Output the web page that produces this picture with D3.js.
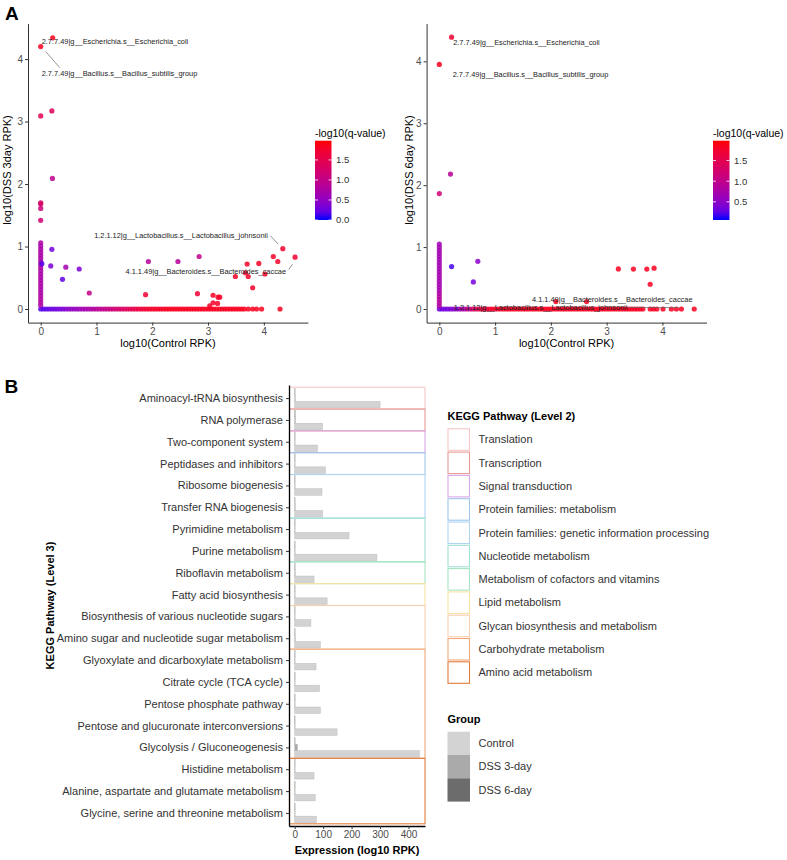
<!DOCTYPE html>
<html>
<head>
<meta charset="utf-8">
<script src="https://cdn.jsdelivr.net/npm/d3@7"></script>
<style>
  body { margin: 0; background: #fff; }
  svg { font-family: "Liberation Sans", Arial, sans-serif; }
</style>
</head>
<body>
<div id="chart"></div>
<script>
// ---- Panel A data: [log10 Control RPK, log10 DSS RPK, -log10(q)] ----
const day3Points = [
    [0.215, 4.34, 1.85], [0.00, 4.20, 1.85], [0.00, 3.09, 1.45], [0.20, 3.17, 1.4],
    [0.21, 2.09, 0.95], [0.00, 1.70, 1.3], [0.00, 1.68, 1.25], [0.00, 1.61, 1.15],
    [0.00, 1.42, 1.2], [0.02, 0.725, 0.15], [0.20, 0.955, 0.3], [0.18, 0.69, 0.35],
    [0.45, 0.67, 0.65], [0.39, 0.475, 0.2], [0.69, 0.64, 0.35], [0.87, 0.256, 1.0],
    [1.93, 0.76, 0.85], [2.46, 0.76, 0.85], [2.84, 0.84, 0.95], [1.88, 0.23, 1.7],
    [2.81, 0.245, 1.7], [3.09, 0.22, 1.8], [3.18, 0.19, 1.8], [3.21, 0.19, 1.8],
    [3.03, 0.05, 1.8], [3.09, 0.10, 1.8], [3.17, 0.09, 1.8], [3.49, 0.52, 1.8],
    [3.70, 0.72, 1.8], [3.67, 0.58, 1.8], [3.72, 0.52, 1.8], [3.91, 0.73, 1.8],
    [3.80, 0.34, 1.8], [4.02, 0.56, 1.8], [4.17, 0.84, 1.8], [4.25, 0.76, 1.8],
    [4.34, 0.965, 1.75], [4.56, 0.83, 1.75], [4.29, 0.00, 1.85], [3.72, 0.00, 1.85],
    [3.80, 0.00, 1.85], [3.87, 0.00, 1.85], [3.96, 0.00, 1.85]
];
// genes with DSS 3day RPK = 0 (x values and their -log10 q)
const day3BaseX = [
    0.00, 0.05, 0.10, 0.15, 0.20, 0.25, 0.30, 0.35, 0.40, 0.45,
    0.50, 0.55, 0.60, 0.65, 0.70, 0.75, 0.80, 0.85, 0.90, 0.95,
    1.00, 1.05, 1.10, 1.15, 1.20, 1.25, 1.30, 1.35, 1.40, 1.45,
    1.50, 1.55, 1.60, 1.65, 1.70, 1.75, 1.80, 1.85, 1.90, 1.95,
    2.00, 2.05, 2.10, 2.15, 2.20, 2.25, 2.30, 2.35, 2.40, 2.45,
    2.50, 2.55, 2.60, 2.65, 2.70, 2.75, 2.80, 2.85, 2.90, 2.95,
    3.00, 3.05, 3.10, 3.15, 3.20, 3.25, 3.30, 3.35, 3.40, 3.45,
    3.50, 3.55, 3.60, 3.65
];
const day3BaseQ = [
    0.15, 0.15, 0.2, 0.2, 0.25, 0.25, 0.3, 0.3, 0.35, 0.4,
    0.45, 0.5, 0.5, 0.55, 0.6, 0.65, 0.65, 0.7, 0.75, 0.8,
    0.85, 0.9, 0.95, 1.0, 1.05, 1.1, 1.15, 1.2, 1.25, 1.3,
    1.35, 1.4, 1.45, 1.5, 1.55, 1.6, 1.65, 1.7, 1.72, 1.75,
    1.78, 1.8, 1.8, 1.82, 1.82, 1.85, 1.85, 1.85, 1.85, 1.85,
    1.85, 1.85, 1.85, 1.85, 1.85, 1.85, 1.85, 1.85, 1.85, 1.85,
    1.85, 1.85, 1.85, 1.85, 1.85, 1.85, 1.85, 1.85, 1.85, 1.85,
    1.85, 1.85, 1.85, 1.85
];
// genes with Control RPK = 0 (y values and their -log10 q)
const day3ColY = [
    0.06, 0.11, 0.16, 0.21, 0.26, 0.31, 0.36, 0.41, 0.46, 0.51, 0.56,
    0.61, 0.66, 0.71, 0.76, 0.81, 0.86, 0.91, 0.96, 1.01, 1.06
];
const day3ColQ = [
    0.75, 0.8, 0.75, 0.8, 0.75, 0.7, 0.75, 0.7, 0.75, 0.7, 0.75,
    0.7, 0.75, 0.7, 0.75, 0.7, 0.75, 0.7, 0.75, 0.7, 0.75
];

const day6Points = [
    [0.22, 4.39, 1.75], [0.00, 3.95, 1.85], [0.20, 2.18, 0.9], [0.00, 1.865, 1.2],
    [0.22, 0.685, 0.15], [0.69, 0.77, 0.5], [0.61, 0.437, 0.35], [3.21, 0.647, 1.85],
    [3.48, 0.645, 1.85], [3.72, 0.645, 1.85], [3.85, 0.66, 1.85], [3.78, 0.40, 1.85],
    [2.09, 0.12, 1.85], [2.64, 0.12, 1.85], [3.78, 0.00, 1.85], [3.84, 0.00, 1.85],
    [3.90, 0.00, 1.85], [4.01, 0.00, 1.85], [4.16, 0.00, 1.85], [4.25, 0.00, 1.85],
    [4.34, 0.00, 1.85], [4.57, 0.00, 1.85]
];
const day6BaseX = [
    0.00, 0.05, 0.10, 0.15, 0.20, 0.25, 0.30, 0.35, 0.40, 0.45,
    0.50, 0.55, 0.60, 0.65, 0.70, 0.75, 0.80, 0.85, 0.90, 0.95,
    1.00, 1.05, 1.10, 1.15, 1.20, 1.25, 1.30, 1.35, 1.40, 1.45,
    1.50, 1.55, 1.60, 1.65, 1.70, 1.75, 1.80, 1.85, 1.90, 1.95,
    2.00, 2.05, 2.10, 2.15, 2.20, 2.25, 2.30, 2.35, 2.40, 2.45,
    2.50, 2.55, 2.60, 2.65, 2.70, 2.75, 2.80, 2.85, 2.90, 2.95,
    3.00, 3.05, 3.10, 3.15, 3.20, 3.25, 3.30, 3.35, 3.40, 3.45,
    3.50, 3.55, 3.60, 3.65
];
const day6BaseQ = [
    0.3, 0.3, 0.35, 0.35, 0.4, 0.45, 0.5, 0.6, 0.7, 0.8,
    0.95, 1.1, 1.25, 1.4, 1.5, 1.6, 1.65, 1.7, 1.75, 1.78,
    1.8, 1.8, 1.8, 1.82, 1.82, 1.82, 1.85, 1.85, 1.85, 1.85,
    1.85, 1.85, 1.85, 1.85, 1.85, 1.85, 1.85, 1.85, 1.85, 1.85,
    1.85, 1.85, 1.85, 1.85, 1.85, 1.85, 1.85, 1.85, 1.85, 1.85,
    1.85, 1.85, 1.85, 1.85, 1.85, 1.85, 1.85, 1.85, 1.85, 1.85,
    1.85, 1.85, 1.85, 1.85, 1.85, 1.85, 1.85, 1.85, 1.85, 1.85,
    1.85, 1.85, 1.85, 1.85
];
const day6ColY = [
    0.05, 0.10, 0.15, 0.20, 0.25, 0.30, 0.35, 0.40, 0.45, 0.50, 0.55,
    0.60, 0.65, 0.70, 0.75, 0.80, 0.85, 0.90, 0.95, 1.00, 1.05
];
const day6ColQ = [
    0.8, 0.85, 0.9, 0.85, 0.8, 0.75, 0.7, 0.7, 0.7, 0.7, 0.7,
    0.7, 0.65, 0.7, 0.65, 0.7, 0.65, 0.7, 0.65, 0.7, 0.65
];

// labelled genes: [text, x, y, dx, dy, anchor, segment offsets or null]
const day3Labels = [
    ['2.7.7.49|g__Escherichia.s__Escherichia_coli', 0.215, 4.34, -11, 6, 'start', null],
    ['2.7.7.49|g__Bacillus.s__Bacillus_subtilis_group', 0.00, 4.20, 1, 29, 'start', [5, 5, 19, 21]],
    ['1.2.1.12|g__Lactobacillus.s__Lactobacillus_johnsonii', 4.34, 0.965, -15, -10.5, 'end', [-4.5, -4.5, -12.5, -13]],
    ['4.1.1.49|g__Bacteroides.s__Bacteroides_caccae', 4.56, 0.83, -9, 17, 'end', [-2.5, 7, -6.3, 12.3]]
];
const day6Labels = [
    ['2.7.7.49|g__Escherichia.s__Escherichia_coli', 0.22, 4.39, 1.6, 7.6, 'start', null],
    ['2.7.7.49|g__Bacillus.s__Bacillus_subtilis_group', 0.00, 3.95, 13.4, 13, 'start', null],
    ['4.1.1.49|g__Bacteroides.s__Bacteroides_caccae', 4.57, 0.00, -1.7, -7, 'end', null],
    ['1.2.1.12|g__Lactobacillus.s__Lactobacillus_johnsonii', 4.34, 0.00, -54, 0.8, 'end', [-53, -1.5, -3, -1.5]]
];

// ---- Panel B data ----
const pathways = [
    'Aminoacyl-tRNA biosynthesis', 'RNA polymerase', 'Two-component system',
    'Peptidases and inhibitors', 'Ribosome biogenesis', 'Transfer RNA biogenesis',
    'Pyrimidine metabolism', 'Purine metabolism', 'Riboflavin metabolism',
    'Fatty acid biosynthesis', 'Biosynthesis of various nucleotide sugars',
    'Amino sugar and nucleotide sugar metabolism', 'Glyoxylate and dicarboxylate metabolism',
    'Citrate cycle (TCA cycle)', 'Pentose phosphate pathway',
    'Pentose and glucuronate interconversions', 'Glycolysis / Gluconeogenesis',
    'Histidine metabolism', 'Alanine, aspartate and glutamate metabolism',
    'Glycine, serine and threonine metabolism'
];
const controlRPK = [300, 98, 80, 108, 96, 98, 191, 289, 68, 114, 57, 90, 75, 87, 90, 149, 438, 68, 72, 76];
const dss3RPK = [2, 3, 1.5, 1.5, 1.5, 2, 1.5, 1.5, 2, 1.5, 1.5, 2, 1.5, 1.5, 1.5, 1.5, 10, 1.5, 1.5, 1.5];
const dss6RPK = [1.5, 2, 1.5, 1.5, 1.5, 1.5, 1.5, 1.5, 1.5, 1.5, 1.5, 1.5, 1.5, 1.5, 1.5, 1.5, 1.5, 1.5, 1.5, 1.5];
const level2Names = [
    'Translation', 'Transcription', 'Signal transduction', 'Protein families: metabolism',
    'Protein families: genetic information processing', 'Nucleotide metabolism',
    'Metabolism of cofactors and vitamins', 'Lipid metabolism',
    'Glycan biosynthesis and metabolism', 'Carbohydrate metabolism', 'Amino acid metabolism'
];
const level2Colors = [
    '#f6c6c6', '#e99a94', '#d9a8ea', '#9fc6ea', '#aed6f3', '#9fe1d4',
    '#a6e4c2', '#f9e2a2', '#f7d0b2', '#f0a878', '#e47c38'
];
// level 2 index of each pathway row
const rowLevel2 = [0, 1, 2, 3, 4, 4, 5, 5, 6, 7, 8, 8, 9, 9, 9, 9, 9, 10, 10, 10];
const groups = ['Control', 'DSS 3-day', 'DSS 6-day'];
const groupFills = ['#d3d3d3', '#aaaaaa', '#6c6c6c'];
const expressionTicks = [0, 100, 200, 300, 400];

const svg = d3.select('#chart').append('svg')
    .attr('width', 787)
    .attr('height', 860);

// Shared helper to style a d3 axis like ggplot classic.
const styleAxis = (g, lineColor, textSize) => {
    g.attr('font-family', null);
    g.select('.domain').attr('stroke', lineColor).attr('stroke-width', 1);
    g.selectAll('.tick line').attr('stroke', '#333');
    g.selectAll('.tick text').attr('fill', '#4d4d4d').style('font-size', textSize);
};

function drawScatter(c) {
    const x = d3.scaleLinear().domain([-0.228, 4.79]).range([c.left, c.left + 279.9]);
    const y = d3.scaleLinear().domain(c.yDomain).range([322.6, 23.6]);
    const color = d3.scaleLinear().domain(c.qDomain).range(['blue', 'red'])
        .interpolate(d3.interpolateLab).clamp(true);

    const pts = [
        ...c.baseX.map((v, i) => ({x: v, y: 0, q: c.baseQ[i]})),
        ...c.colY.map((v, i) => ({x: 0, y: v, q: c.colQ[i]})),
        ...c.points.map(p => ({x: p[0], y: p[1], q: p[2]}))
    ];

    svg.append('g').selectAll('circle')
        .data(pts)
        .join('circle')
        .attr('cx', d => x(d.x))
        .attr('cy', d => y(d.y))
        .attr('r', 2.6)
        .attr('fill', d => color(d.q))
        .attr('fill-opacity', 0.85);

    // Label segments and texts.
    const lab = svg.append('g');
    c.labels.forEach(l => {
        const px = x(l[1]), py = y(l[2]);
        if (l[6]) {
            lab.append('line')
                .attr('x1', px + l[6][0]).attr('y1', py + l[6][1])
                .attr('x2', px + l[6][2]).attr('y2', py + l[6][3])
                .attr('stroke', '#666').attr('stroke-width', 0.7);
        }
        lab.append('text')
            .attr('x', px + l[3]).attr('y', py + l[4])
            .attr('text-anchor', l[5])
            .style('font-size', '7.4px')
            .attr('fill', '#222')
            .text(l[0]);
    });

    const xAxisG = svg.append('g')
        .attr('transform', 'translate(0,322.6)')
        .call(d3.axisBottom(x).tickValues([0, 1, 2, 3, 4]).tickFormat(d3.format('d'))
            .tickSize(3).tickPadding(2).tickSizeOuter(0));
    styleAxis(xAxisG, '#333', '10px');
    const yAxisG = svg.append('g')
        .attr('transform', `translate(${c.left},0)`)
        .call(d3.axisLeft(y).tickValues([0, 1, 2, 3, 4]).tickFormat(d3.format('d'))
            .tickSize(3).tickPadding(2).tickSizeOuter(0));
    styleAxis(yAxisG, '#333', '10px');

    svg.append('text')
        .attr('x', c.left + 140).attr('y', 347)
        .attr('text-anchor', 'middle')
        .style('font-size', '11px')
        .text('log10(Control RPK)');
    svg.append('text')
        .attr('transform', `translate(${c.yTitleX},170) rotate(-90)`)
        .attr('text-anchor', 'middle')
        .style('font-size', '11px')
        .text(c.yTitle);

    // Colour bar legend.
    const grad = svg.append('defs').append('linearGradient')
        .attr('id', c.id).attr('x1', 0).attr('y1', 1).attr('x2', 0).attr('y2', 0);
    d3.range(0, 1.0001, 0.1).forEach(t => {
        grad.append('stop')
            .attr('offset', t)
            .attr('stop-color', color(c.qDomain[0] + t * (c.qDomain[1] - c.qDomain[0])));
    });
    const cb = d3.scaleLinear().domain(c.qDomain).range([220, 140.7]);
    svg.append('rect')
        .attr('x', c.cbX).attr('y', 140.7)
        .attr('width', 16.5).attr('height', 79.3)
        .attr('fill', `url(#${c.id})`);
    const cbTicks = svg.append('g').selectAll('g')
        .data(c.cbTicks)
        .join('g')
        .attr('transform', d => `translate(0,${cb(d)})`);
    cbTicks.append('line').attr('x1', c.cbX).attr('x2', c.cbX + 3).attr('stroke', '#fff').attr('stroke-opacity', 0.8);
    cbTicks.append('line').attr('x1', c.cbX + 13.5).attr('x2', c.cbX + 16.5).attr('stroke', '#fff').attr('stroke-opacity', 0.8);
    cbTicks.append('text')
        .attr('x', c.cbX + 21).attr('dy', '0.35em')
        .style('font-size', '9.5px')
        .attr('fill', '#333')
        .text(d => d.toFixed(1));
    svg.append('text')
        .attr('x', c.cbX).attr('y', 136.5)
        .style('font-size', '10.5px')
        .text('-log10(q-value)');
}

drawScatter({
    id: 'grad3', left: 28, yDomain: [-0.2175, 4.5675], qDomain: [0, 1.98],
    points: day3Points, baseX: day3BaseX, baseQ: day3BaseQ, colY: day3ColY, colQ: day3ColQ,
    labels: day3Labels, yTitle: 'log10(DSS 3day RPK)', yTitleX: 11, cbX: 315, cbTicks: [0, 0.5, 1.0, 1.5]
});
drawScatter({
    id: 'grad6', left: 426.6, yDomain: [-0.2195, 4.6095], qDomain: [0.06, 1.98],
    points: day6Points, baseX: day6BaseX, baseQ: day6BaseQ, colY: day6ColY, colQ: day6ColQ,
    labels: day6Labels, yTitle: 'log10(DSS 6day RPK)', yTitleX: 413, cbX: 713, cbTicks: [0.5, 1.0, 1.5]
});

// Panel letters.
svg.append('text').attr('x', 5).attr('y', 20).style('font-size', '19px').style('font-weight', 'bold').text('A');
svg.append('text').attr('x', 4.5).attr('y', 393).style('font-size', '19px').style('font-weight', 'bold').text('B');

// ---- Panel B: grouped horizontal bars ----
const yB = d3.scalePoint().domain(pathways).range([385, 826]).padding(0.6);
const step = yB.step();
const xB = d3.scaleLinear().domain([-20, 458]).range([289, 425]);
const barH = step * 0.9 / 3;

const barData = [];
pathways.forEach((p, i) => {
    [controlRPK[i], dss3RPK[i], dss6RPK[i]].forEach((v, g) => {
        barData.push({p, g, v});
    });
});

svg.append('g').selectAll('rect')
    .data(barData)
    .join('rect')
    .attr('x', xB(0))
    .attr('y', d => yB(d.p) + step * 0.45 - barH * (d.g + 1))
    .attr('width', d => xB(d.v) - xB(0))
    .attr('height', barH)
    .attr('fill', d => groupFills[d.g])
    .attr('stroke', '#bdbdbd')
    .attr('stroke-width', 0.5);

// Level 2 outline boxes.
const spans = level2Names.map((name, k) => {
    const rows = pathways.filter((_, i) => rowLevel2[i] === k);
    return {k, first: rows[0], last: rows[rows.length - 1]};
});
svg.append('g').selectAll('rect')
    .data(spans)
    .join('rect')
    .attr('x', xB(-20) + 0.5)
    .attr('y', d => yB(d.first) - step / 2)
    .attr('width', xB(458) - xB(-20) - 0.5)
    .attr('height', d => yB(d.last) - yB(d.first) + step)
    .attr('fill', 'none')
    .attr('stroke', d => level2Colors[d.k])
    .attr('stroke-width', 1.1);

const xAxisB = svg.append('g')
    .attr('transform', 'translate(0,826)')
    .call(d3.axisBottom(xB).tickValues(expressionTicks).tickSize(3).tickPadding(2).tickSizeOuter(0));
styleAxis(xAxisB, '#000', '10px');
xAxisB.select('.domain').attr('stroke-width', 1.3);
const yAxisB = svg.append('g')
    .attr('transform', 'translate(289,0)')
    .call(d3.axisLeft(yB).tickSize(3).tickPadding(3).tickSizeOuter(0));
styleAxis(yAxisB, '#000', '11px');
yAxisB.select('.domain').attr('stroke-width', 1.3);
yAxisB.selectAll('.tick text').attr('fill', '#333');

svg.append('text')
    .attr('x', 357).attr('y', 854)
    .attr('text-anchor', 'middle')
    .style('font-size', '11px').style('font-weight', 'bold')
    .text('Expression (log10 RPK)');
svg.append('text')
    .attr('transform', 'translate(54,605.5) rotate(-90)')
    .attr('text-anchor', 'middle')
    .style('font-size', '11px').style('font-weight', 'bold')
    .text('KEGG Pathway (Level 3)');

// Legends.
const keyStep = 23.3;
svg.append('text')
    .attr('x', 447.5).attr('y', 419.5)
    .style('font-size', '11px').style('font-weight', 'bold')
    .text('KEGG Pathway (Level 2)');
const l2 = svg.append('g').selectAll('g')
    .data(level2Names)
    .join('g')
    .attr('transform', (_, i) => `translate(447.5,${428.3 + i * keyStep})`);
l2.append('rect')
    .attr('x', 0.5).attr('y', 0.5)
    .attr('width', 21.5).attr('height', 21.5)
    .attr('fill', '#fff')
    .attr('stroke', (_, i) => level2Colors[i])
    .attr('stroke-width', 1.1);
l2.append('text')
    .attr('x', 31).attr('y', 11.2).attr('dy', '0.35em')
    .style('font-size', '11px').attr('fill', '#333')
    .text(d => d);

svg.append('text')
    .attr('x', 447.5).attr('y', 723)
    .style('font-size', '11px').style('font-weight', 'bold')
    .text('Group');
const gl = svg.append('g').selectAll('g')
    .data(groups)
    .join('g')
    .attr('transform', (_, i) => `translate(447.5,${731.7 + i * keyStep})`);
gl.append('rect')
    .attr('width', 22.5).attr('height', keyStep)
    .attr('fill', (_, i) => groupFills[i]);
gl.append('text')
    .attr('x', 31).attr('y', 11.5).attr('dy', '0.35em')
    .style('font-size', '11px').attr('fill', '#333')
    .text(d => d);
</script>
</body>
</html>
